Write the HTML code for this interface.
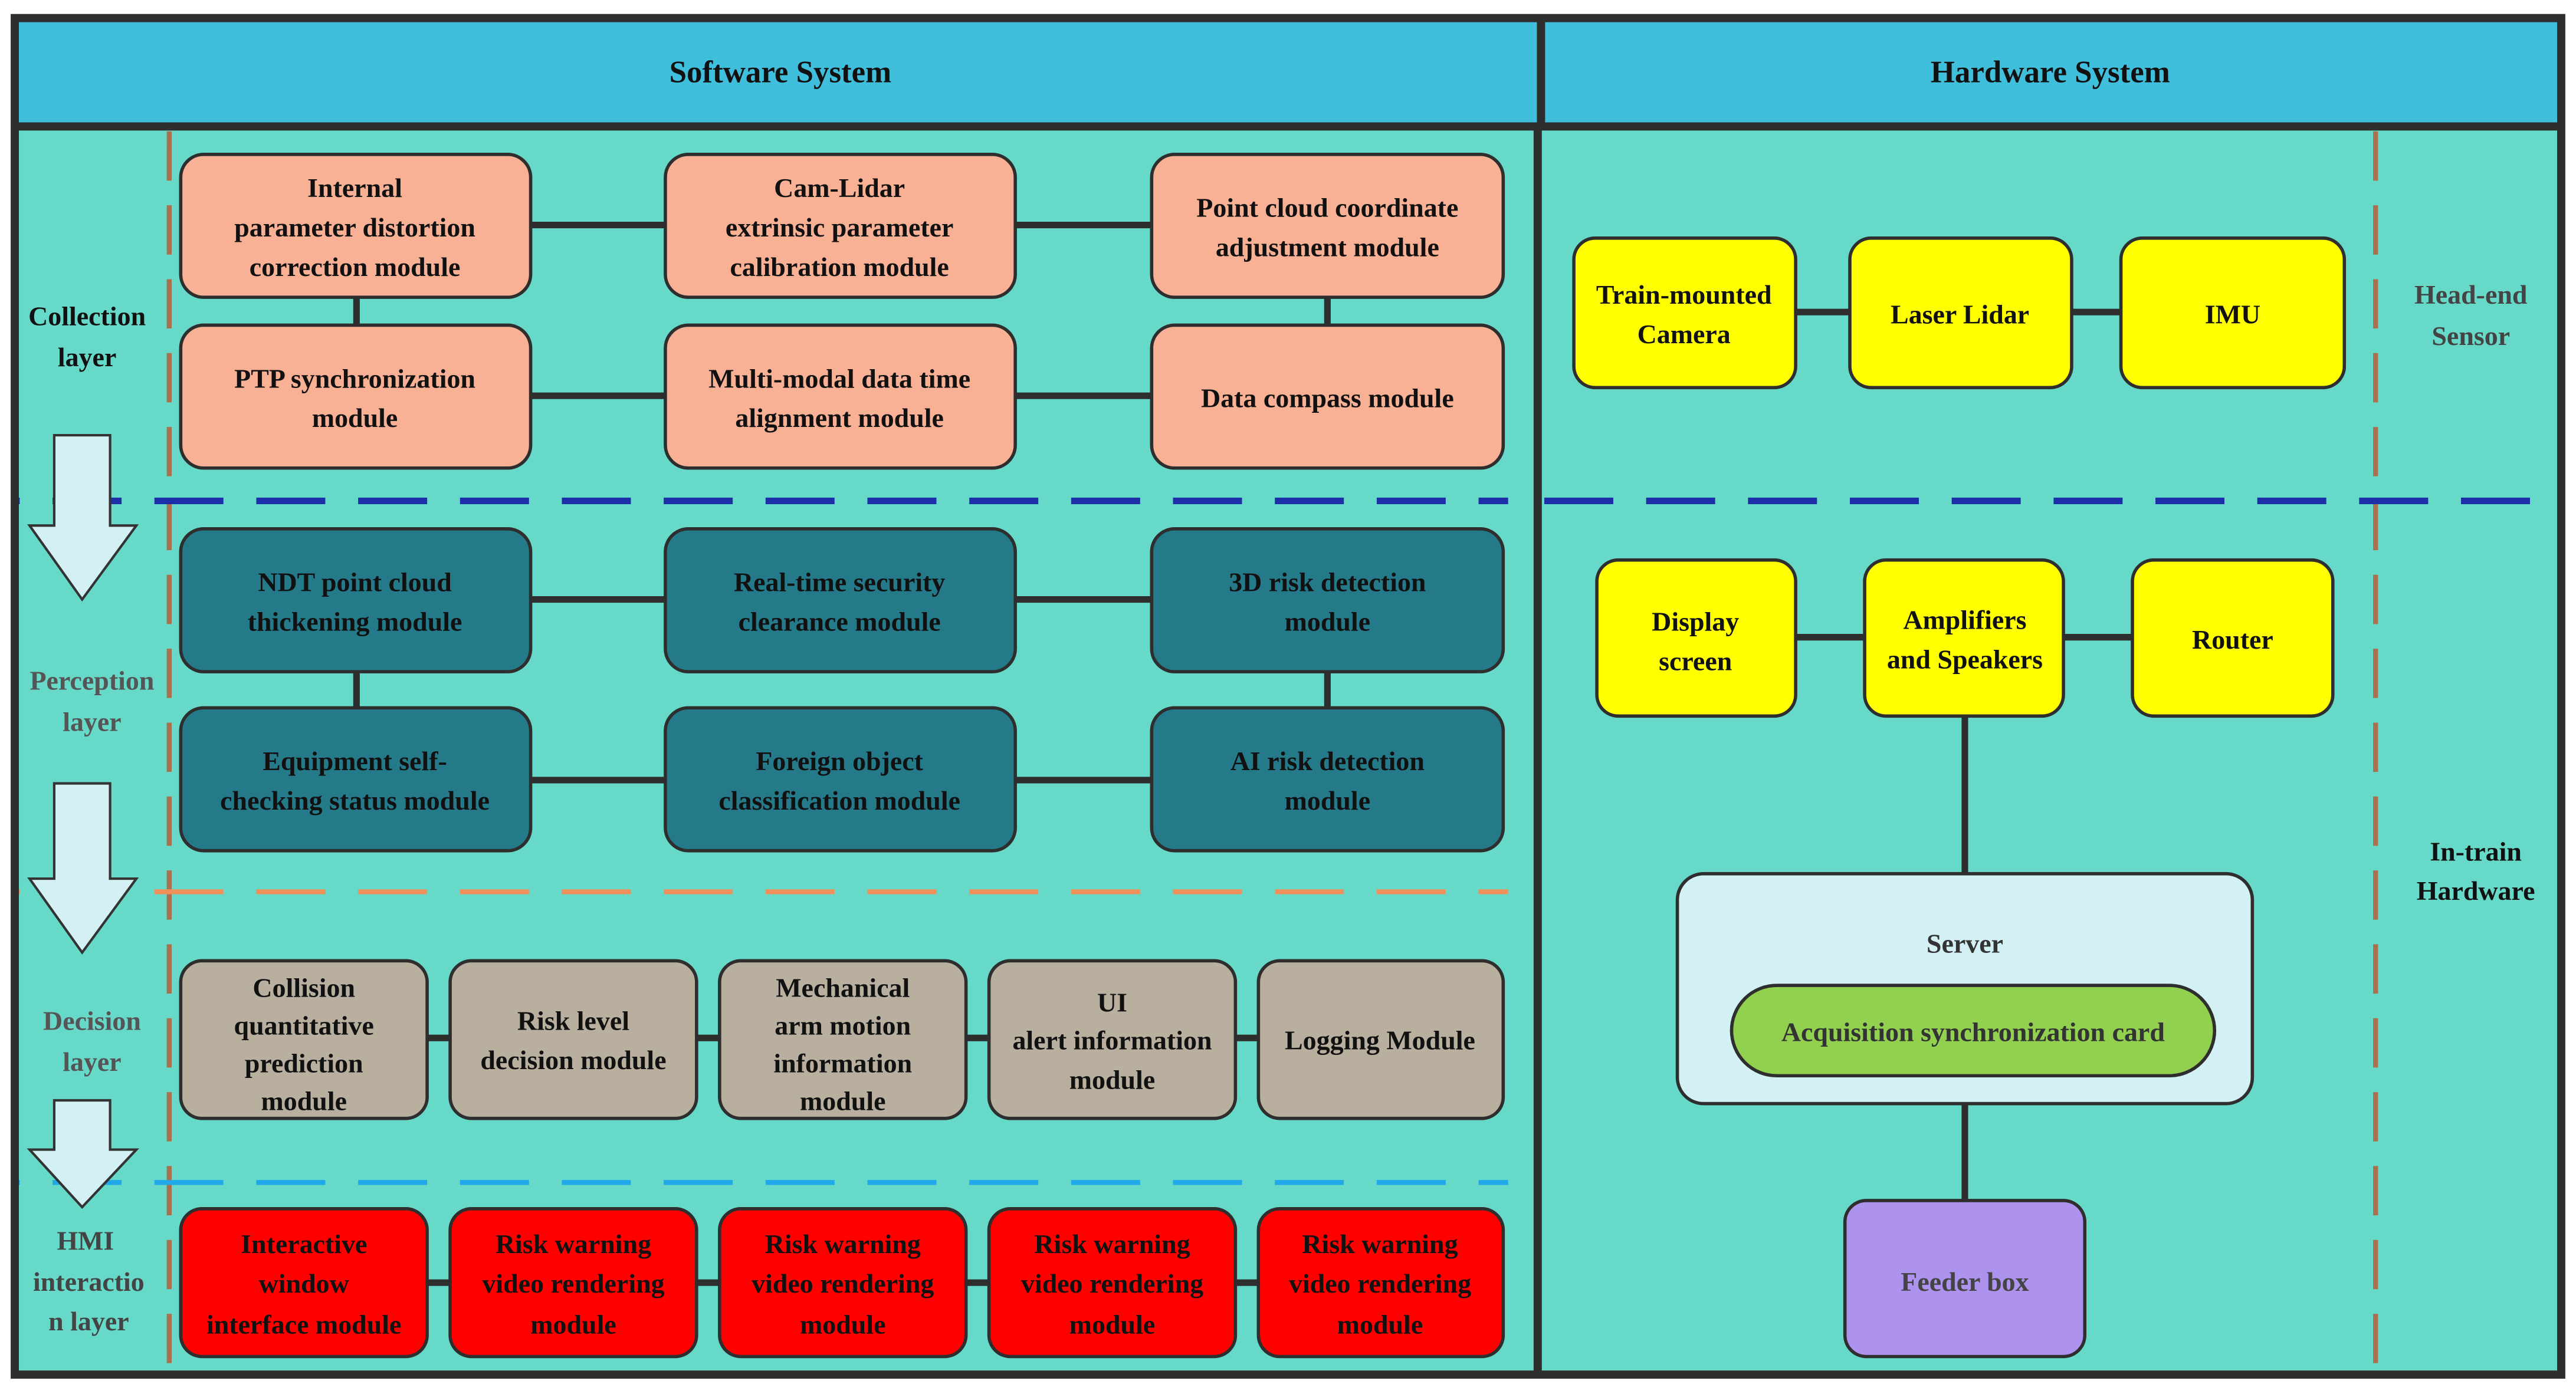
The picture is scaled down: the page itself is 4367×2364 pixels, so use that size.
<!DOCTYPE html>
<html><head><meta charset="utf-8"><style>
html,body{margin:0;padding:0;background:#fff;}
svg{display:block;}
text{font-family:"Liberation Serif",serif;font-weight:bold;font-size:16.5px;text-anchor:middle;fill:#111;}
</style></head><body>
<svg width="4367" height="2364" viewBox="0 0 1568 848.8" preserveAspectRatio="none" xmlns="http://www.w3.org/2000/svg">
<rect x="0" y="0" width="1568" height="849" fill="#fff"/>
<rect x="9" y="11" width="1550" height="826" fill="#67D9C8"/>
<rect x="9" y="11" width="1550" height="66" fill="#40BFDD"/>

<!-- dashed lines -->
<g stroke-width="4" fill="none">
<line x1="103" y1="80" x2="103" y2="835" stroke="#A8704F" stroke-width="3" stroke-dasharray="30 15"/>
<line x1="1446" y1="80" x2="1446" y2="835" stroke="#A8704F" stroke-width="3" stroke-dasharray="30 15"/>
<line x1="10" y1="305" x2="918" y2="305" stroke="#1C2FA8" stroke-dasharray="42 20" stroke-dashoffset="-22"/>
<line x1="940" y1="305" x2="1558" y2="305" stroke="#1C2FA8" stroke-dasharray="42 20"/>
<line x1="10" y1="543" x2="918" y2="543" stroke="#F0905A" stroke-width="3" stroke-dasharray="42 20" stroke-dashoffset="-22"/>
<line x1="10" y1="720" x2="918" y2="720" stroke="#20A8E8" stroke-width="3" stroke-dasharray="42 20" stroke-dashoffset="-22"/>
</g>

<line x1="9" y1="77" x2="1559" y2="77" stroke="#2e2e2e" stroke-width="5"/>
<line x1="938" y1="11" x2="938" y2="77" stroke="#2e2e2e" stroke-width="5"/>
<line x1="936" y1="77" x2="936" y2="837" stroke="#2e2e2e" stroke-width="5"/>
<rect x="9" y="11" width="1550" height="826" fill="none" stroke="#2e2e2e" stroke-width="5"/>
<text x="475" y="50" style="font-size:19px">Software System</text>
<text x="1248" y="50" style="font-size:19px">Hardware System</text>

<!-- arrows -->
<g fill="#D3F1F5" stroke="#333" stroke-width="1.5">
<polygon points="33,265 67,265 67,320 83,320 50,365 18,320 33,320"/>
<polygon points="33,477 67,477 67,535 83,535 50,580 18,535 33,535"/>
<polygon points="33,670 67,670 67,700 83,700 50,735 18,700 33,700"/>
</g>

<!-- layer labels -->
<text x="53" y="198">Collection</text><text x="53" y="223">layer</text>
<text x="56" y="420" style="fill:#555">Perception</text><text x="56" y="445" style="fill:#555">layer</text>
<text x="56" y="627" style="fill:#555">Decision</text><text x="56" y="652" style="fill:#555">layer</text>
<text x="52" y="761" style="fill:#444">HMI</text><text x="54" y="786" style="fill:#444">interactio</text><text x="54" y="810" style="fill:#444">n layer</text>

<!-- connectors -->
<g stroke="#2e2e2e" stroke-width="4">
<line x1="323" y1="137" x2="405" y2="137"/><line x1="618" y1="137" x2="701" y2="137"/>
<line x1="323" y1="241" x2="405" y2="241"/><line x1="618" y1="241" x2="701" y2="241"/>
<line x1="217" y1="181" x2="217" y2="198"/><line x1="808" y1="181" x2="808" y2="198"/>
<line x1="323" y1="365" x2="405" y2="365"/><line x1="618" y1="365" x2="701" y2="365"/>
<line x1="323" y1="475" x2="405" y2="475"/><line x1="618" y1="475" x2="701" y2="475"/>
<line x1="217" y1="409" x2="217" y2="431"/><line x1="808" y1="409" x2="808" y2="431"/>
<line x1="110" y1="632" x2="915" y2="632"/>
<line x1="110" y1="781" x2="915" y2="781"/>
<line x1="1093" y1="190" x2="1291" y2="190"/>
<line x1="1093" y1="388" x2="1298" y2="388"/>
<line x1="1196" y1="436" x2="1196" y2="532"/>
<line x1="1196" y1="672" x2="1196" y2="731"/>
</g>

<!-- collection boxes -->
<g fill="#F9B195" stroke="#2e2e2e" stroke-width="2">
<rect x="110" y="94" width="213" height="87" rx="14"/><rect x="405" y="94" width="213" height="87" rx="14"/><rect x="701" y="94" width="214" height="87" rx="14"/>
<rect x="110" y="198" width="213" height="87" rx="14"/><rect x="405" y="198" width="213" height="87" rx="14"/><rect x="701" y="198" width="214" height="87" rx="14"/>
</g>
<text x="216" y="120">Internal</text><text x="216" y="144">parameter distortion</text><text x="216" y="168">correction  module</text>
<text x="511" y="120">Cam-Lidar</text><text x="511" y="144">extrinsic parameter</text><text x="511" y="168">calibration module</text>
<text x="808" y="132">Point cloud coordinate</text><text x="808" y="156">adjustment module</text>
<text x="216" y="236">PTP synchronization</text><text x="216" y="260">module</text>
<text x="511" y="236">Multi-modal data time</text><text x="511" y="260">alignment module</text>
<text x="808" y="248">Data compass module</text>

<!-- perception boxes -->
<g fill="#257A8A" stroke="#2e2e2e" stroke-width="2">
<rect x="110" y="322" width="213" height="87" rx="14"/><rect x="405" y="322" width="213" height="87" rx="14"/><rect x="701" y="322" width="214" height="87" rx="14"/>
<rect x="110" y="431" width="213" height="87" rx="14"/><rect x="405" y="431" width="213" height="87" rx="14"/><rect x="701" y="431" width="214" height="87" rx="14"/>
</g>
<text x="216" y="360">NDT point cloud</text><text x="216" y="384">thickening module</text>
<text x="511" y="360">Real-time security</text><text x="511" y="384">clearance module</text>
<text x="808" y="360">3D risk detection</text><text x="808" y="384">module</text>
<text x="216" y="469">Equipment self-</text><text x="216" y="493">checking status module</text>
<text x="511" y="469">Foreign object</text><text x="511" y="493">classification module</text>
<text x="808" y="469">AI risk detection</text><text x="808" y="493">module</text>

<!-- decision boxes -->
<g fill="#B8AF9F" stroke="#2e2e2e" stroke-width="2">
<rect x="110" y="585" width="150" height="96" rx="13"/><rect x="274" y="585" width="150" height="96" rx="13"/><rect x="438" y="585" width="150" height="96" rx="13"/><rect x="602" y="585" width="150" height="96" rx="13"/><rect x="766" y="585" width="149" height="96" rx="13"/>
</g>
<text x="185" y="607">Collision</text><text x="185" y="630">quantitative</text><text x="185" y="653">prediction</text><text x="185" y="676">module</text>
<text x="349" y="627">Risk level</text><text x="349" y="651">decision module</text>
<text x="513" y="607">Mechanical</text><text x="513" y="630">arm motion</text><text x="513" y="653">information</text><text x="513" y="676">module</text>
<text x="677" y="616">UI</text><text x="677" y="639">alert information</text><text x="677" y="663">module</text>
<text x="840" y="639">Logging Module</text>

<!-- HMI boxes -->
<g fill="#FF0000" stroke="#2e2e2e" stroke-width="2">
<rect x="110" y="736" width="150" height="90" rx="13"/><rect x="274" y="736" width="150" height="90" rx="13"/><rect x="438" y="736" width="150" height="90" rx="13"/><rect x="602" y="736" width="150" height="90" rx="13"/><rect x="766" y="736" width="149" height="90" rx="13"/>
</g>
<text x="185" y="763">Interactive</text><text x="185" y="787">window</text><text x="185" y="812">interface module</text>
<text x="349" y="763">Risk warning</text><text x="349" y="787">video rendering</text><text x="349" y="812">module</text>
<text x="513" y="763">Risk warning</text><text x="513" y="787">video rendering</text><text x="513" y="812">module</text>
<text x="677" y="763">Risk warning</text><text x="677" y="787">video rendering</text><text x="677" y="812">module</text>
<text x="840" y="763">Risk warning</text><text x="840" y="787">video rendering</text><text x="840" y="812">module</text>

<!-- hardware -->
<g fill="#FFFF00" stroke="#2e2e2e" stroke-width="2">
<rect x="958" y="145" width="135" height="91" rx="13"/><rect x="1126" y="145" width="135" height="91" rx="13"/><rect x="1291" y="145" width="136" height="91" rx="13"/>
<rect x="972" y="341" width="121" height="95" rx="13"/><rect x="1135" y="341" width="121" height="95" rx="13"/><rect x="1298" y="341" width="122" height="95" rx="13"/>
</g>
<text x="1025" y="185">Train-mounted</text><text x="1025" y="209">Camera</text>
<text x="1193" y="197">Laser Lidar</text>
<text x="1359" y="197">IMU</text>
<text x="1032" y="384">Display</text><text x="1032" y="408">screen</text>
<text x="1196" y="383">Amplifiers</text><text x="1196" y="407">and Speakers</text>
<text x="1359" y="395">Router</text>
<text x="1504" y="185" style="fill:#444">Head-end</text><text x="1504" y="210" style="fill:#444">Sensor</text>
<text x="1507" y="524">In-train</text><text x="1507" y="548">Hardware</text>

<rect x="1021" y="532" width="350" height="140" rx="16" fill="#D3F1F5" stroke="#2e2e2e" stroke-width="2"/>
<text x="1196" y="580" style="fill:#333">Server</text>
<rect x="1054" y="600" width="294" height="55" rx="27.5" fill="#92D050" stroke="#2e2e2e" stroke-width="2"/>
<text x="1201" y="634" style="fill:#333">Acquisition synchronization card</text>
<rect x="1123" y="731" width="146" height="95" rx="13" fill="#AD93EE" stroke="#2e2e2e" stroke-width="2"/>
<text x="1196" y="786" style="fill:#444">Feeder box</text>
</svg>
</body></html>
